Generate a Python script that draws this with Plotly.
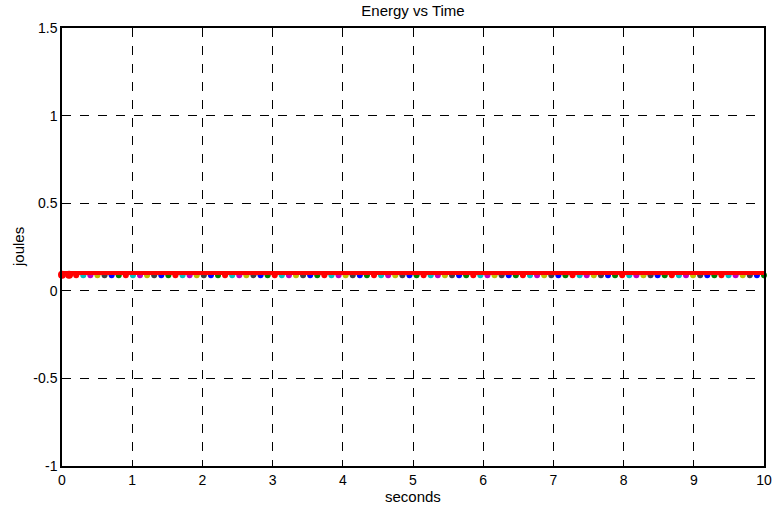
import numpy as np
import plotly.graph_objects as go

# Sampling grid (seconds)
time_s = np.linspace(0, 10, 100)

# Energy samples (joules)
energy_dots = [
    0.089, 0.089, 0.089, 0.089, 0.089, 0.089, 0.089, 0.089, 0.089, 0.089,
    0.089, 0.089, 0.089, 0.089, 0.089, 0.089, 0.089, 0.089, 0.089, 0.089,
    0.089, 0.089, 0.089, 0.089, 0.089, 0.089, 0.089, 0.089, 0.089, 0.089,
    0.089, 0.089, 0.089, 0.089, 0.089, 0.089, 0.089, 0.089, 0.089, 0.089,
    0.089, 0.089, 0.089, 0.089, 0.089, 0.089, 0.089, 0.089, 0.089, 0.089,
    0.089, 0.089, 0.089, 0.089, 0.089, 0.089, 0.089, 0.089, 0.089, 0.089,
    0.089, 0.089, 0.089, 0.089, 0.089, 0.089, 0.089, 0.089, 0.089, 0.089,
    0.089, 0.089, 0.089, 0.089, 0.089, 0.089, 0.089, 0.089, 0.089, 0.089,
    0.089, 0.089, 0.089, 0.089, 0.089, 0.089, 0.089, 0.089, 0.089, 0.089,
    0.089, 0.089, 0.089, 0.089, 0.089, 0.089, 0.089, 0.089, 0.089, 0.089,
]
total_energy_x = [0, 10]
total_energy = [0.102, 0.102]
start_x = [0, 0.101]
start_y = [0.092, 0.092]

color_order = ["#0000ff", "#008000", "#ff0000", "#00bfbf", "#bf00bf", "#bfbf00", "#404040"]

x_ticks = [0, 1, 2, 3, 4, 5, 6, 7, 8, 9, 10]
y_ticks = [-1, -0.5, 0, 0.5, 1, 1.5]
y_tick_labels = ["-1", "-0.5", "0", "0.5", "1", "1.5"]

dot_colors = [color_order[i % len(color_order)] for i in range(len(time_s))]

FONT = "Liberation Sans, Arial, Helvetica"

fig = go.Figure()
fig.add_trace(go.Scatter(
    x=time_s, y=energy_dots, mode="markers",
    marker=dict(color=dot_colors, size=6, line=dict(width=0)),
    showlegend=False, hoverinfo="skip", cliponaxis=False,
))
fig.add_trace(go.Scatter(
    x=start_x, y=start_y, mode="markers",
    marker=dict(color="#ff0000", size=8, line=dict(width=0)),
    showlegend=False, hoverinfo="skip", cliponaxis=False,
))
fig.add_trace(go.Scatter(
    x=total_energy_x, y=total_energy, mode="lines",
    line=dict(color="#ff0000", width=4),
    showlegend=False, hoverinfo="skip",
))

axis_common = dict(
    showline=True, mirror=True, linecolor="black", linewidth=1.5,
    showgrid=True, gridcolor="black", gridwidth=1, griddash="dash",
    ticks="inside", ticklen=5, tickcolor="black", automargin=False,
    zeroline=False, tickfont=dict(family=FONT, size=14, color="black"),
)

fig.update_layout(
    width=772, height=506,
    margin=dict(l=62, r=8, t=28, b=40, autoexpand=False),
    paper_bgcolor="white", plot_bgcolor="white",
    title=dict(text="Energy vs Time", x=413 / 772, xanchor="center", y=1 - 11 / 506, yanchor="middle",
               font=dict(family=FONT, size=15, color="black")),
    xaxis=dict(range=[0, 10], tickvals=x_ticks, **axis_common),
    yaxis=dict(range=[-1, 1.5], tickvals=y_ticks, ticktext=y_tick_labels, **axis_common),
    annotations=[
        dict(text="seconds", xref="paper", yref="paper", x=0.5, y=-(496 - 466) / 438,
             xanchor="center", yanchor="middle", showarrow=False,
             font=dict(family=FONT, size=15, color="black")),
        dict(text="joules", xref="paper", yref="paper", x=(18 - 62) / 702, y=0.5,
             xanchor="center", yanchor="middle", showarrow=False, textangle=-90,
             font=dict(family=FONT, size=15, color="black")),
    ],
)

fig.write_html(
    "out.html",
    config={"displayModeBar": False},
    post_script="document.body.style.margin='0';document.body.style.overflow='hidden';",
)
